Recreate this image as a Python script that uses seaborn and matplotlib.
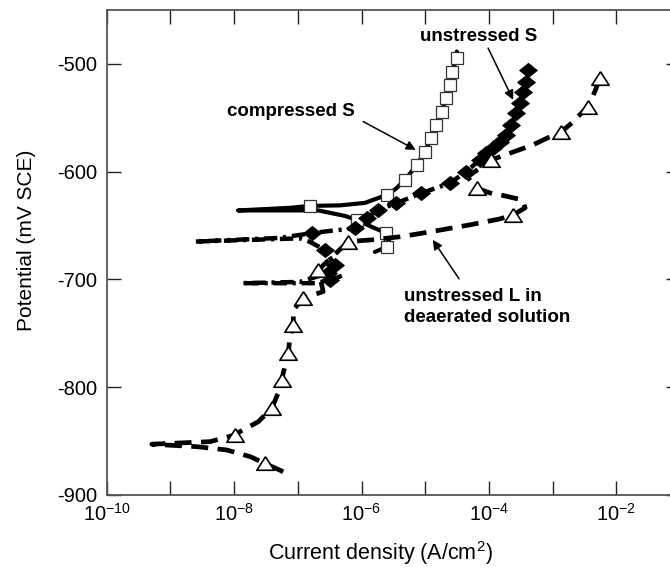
import matplotlib
matplotlib.use("Agg")
import matplotlib.pyplot as plt
from matplotlib.ticker import FixedLocator, FixedFormatter, NullLocator
import pandas as pd
import seaborn as sns

# ---- polarization data: current density (A/cm^2) and potential (mV SCE) ----
# compressed S specimen (solid line, open squares)
comp_i = [1.62e-6, 2.5e-6, 2.7e-6, 2.4e-6, 1.45e-6, 8.4e-7, 5.5e-7, 2.1e-7,
          1.15e-8, 7.5e-8, 1.55e-7, 4.6e-7, 1.13e-6, 2.5e-6, 3.45e-6, 4.8e-6,
          7.4e-6, 9.8e-6, 1.25e-5, 1.50e-5, 1.80e-5, 2.15e-5, 2.43e-5, 2.64e-5,
          3.1e-5, 3.13e-5]
comp_e = [-674.5, -669.8, -663.3, -656.8, -651.3, -644.8, -641.1, -636.0,
          -636.0, -633.6, -631.8, -631.3, -629.0, -621.6, -616.0, -607.7,
          -593.7, -581.7, -568.9, -556.6, -544.5, -531.5, -519.5, -507.4,
          -494.7, -488.6]
comp_marks = [1, 3, 5, 10, 13, 15, 16, 17, 18, 19, 20, 21, 22, 23, 24]

# unstressed S specimen (dash-dot line, filled diamonds)
unst_i = [4.9e-7, 3.2e-7, 1.92e-7, 1.31e-8, 1.08e-7, 3.0e-7, 3.8e-7, 3.2e-7,
          2.65e-7, 1.55e-7, 1.08e-7, 2.4e-9, 5.2e-8, 1.64e-7, 3.2e-7, 7.9e-7,
          1.20e-6, 1.82e-6, 3.5e-6, 8.7e-6, 2.43e-5, 4.4e-5, 7.2e-5, 9.1e-5,
          1.16e-4, 1.48e-4, 1.88e-4, 2.25e-4, 2.7e-4, 3.04e-4, 3.43e-4,
          3.87e-4, 4.1e-4]
unst_e = [-696.7, -700.5, -703.5, -703.5, -702.3, -694.2, -686.5, -680.0,
          -672.6, -665.2, -661.9, -664.9, -661.5, -657.1, -655.0, -652.5,
          -643.2, -635.5, -629.3, -620.0, -610.7, -599.9, -589.1, -582.9,
          -578.2, -572.1, -565.9, -556.6, -545.7, -536.5, -525.7, -516.4,
          -505.6]
unst_marks = [1, 5, 6, 8, 13] + list(range(15, 33))

# unstressed L specimen in deaerated solution (dashed line, open triangles)
dea_i = [5.9e-8, 3.0e-8, 1.8e-8, 7.6e-9, 2.6e-9, 5.1e-10, 4.2e-9, 1.03e-8,
         1.23e-8, 2.4e-8, 3.9e-8, 4.9e-8, 5.6e-8, 5.9e-8, 7.1e-8, 7.5e-8,
         8.5e-8, 8.5e-8, 1.21e-7, 2.5e-7, 2.1e-7, 6.2e-7, 1.45e-6, 4.2e-6,
         1.18e-5, 5.0e-5, 1.48e-4, 2.4e-4, 3.7e-4, 3.3e-4, 1.77e-4, 1.03e-4,
         6.4e-5, 4.6e-5, 1.09e-4, 4.9e-4, 8.4e-4, 1.37e-3, 1.85e-3, 3.6e-3,
         4.6e-3, 5.5e-3]
dea_e = [-878.4, -870.6, -864.5, -858.2, -855.2, -852.9, -850.5, -844.3,
         -841.3, -832.0, -819.5, -805.6, -793.3, -787.0, -768.5, -753.1,
         -742.2, -728.3, -717.4, -711.3, -691.2, -664.9, -663.3, -660.3,
         -655.9, -649.4, -643.9, -640.1, -633.6, -626.2, -622.5, -619.7,
         -615.4, -604.9, -589.1, -575.2, -568.6, -562.8, -556.6, -539.6,
         -525.7, -513.3]
dea_marks = [1, 7, 10, 12, 14, 16, 18, 20, 21, 27, 32, 34, 37, 39, 41]

# ---- axes ticks ----
x_ticks = [1e-10, 1e-9, 1e-8, 1e-7, 1e-6, 1e-5, 1e-4, 1e-3, 1e-2, 1e-1]
x_tick_labels = [r"$\mathregular{10^{-10}}$", "", r"$\mathregular{10^{-8}}$", "",
                 r"$\mathregular{10^{-6}}$", "", r"$\mathregular{10^{-4}}$", "",
                 r"$\mathregular{10^{-2}}$", ""]
y_ticks = [-900, -800, -700, -600, -500]
y_tick_labels = ["-900", "-800", "-700", "-600", "-500"]

sns.set_theme(style="ticks")
plt.rcParams["font.family"] = ["Liberation Sans", "DejaVu Sans"]
plt.rcParams["mathtext.fontset"] = "custom"
plt.rcParams["mathtext.rm"] = "Liberation Sans"
plt.rcParams["axes.unicode_minus"] = False

fig = plt.figure(figsize=(6.7, 5.69), dpi=100)
ax = fig.add_axes([0.1593, 0.1301, 0.8557, 0.8524])
ax.set_xscale("log")

comp = pd.DataFrame({"i": comp_i, "E": comp_e})
unst = pd.DataFrame({"i": unst_i, "E": unst_e})
dea = pd.DataFrame({"i": dea_i, "E": dea_e})

common = dict(x="i", y="E", sort=False, estimator=None, color="black", ax=ax)

sns.lineplot(data=comp, linewidth=3, linestyle="-", marker="s",
             markevery=comp_marks, markersize=9, markerfacecolor="white",
             markeredgecolor="#333333", markeredgewidth=0.9, zorder=3, **common)

diamond = [(0, 0.8), (1, 0), (0, -0.8), (-1, 0), (0, 0.8)]
sns.lineplot(data=unst, linewidth=3.2, linestyle=(0, (3.0, 1.3, 0.7, 1.3)),
             marker=diamond, markevery=unst_marks, markersize=13,
             markerfacecolor="black", markeredgecolor="black",
             markeredgewidth=0.5, zorder=4, **common)

triangle = [(0, 0.78), (-1, -0.78), (1, -0.78), (0, 0.78)]
sns.lineplot(data=dea, linewidth=3.4, linestyle=(0, (3.6, 2.0)),
             marker=triangle, markevery=dea_marks, markersize=12.5,
             markerfacecolor="white", markeredgecolor="black",
             markeredgewidth=1.2, zorder=5, **common)

ax.set_xlim(1e-10, 1e-1)
ax.set_ylim(-900, -450)

ax.xaxis.set_major_locator(FixedLocator(x_ticks))
ax.xaxis.set_major_formatter(FixedFormatter(x_tick_labels))
ax.xaxis.set_minor_locator(NullLocator())
ax.yaxis.set_major_locator(FixedLocator(y_ticks))
ax.yaxis.set_major_formatter(FixedFormatter(y_tick_labels))
ax.yaxis.set_minor_locator(NullLocator())
ax.tick_params(direction="in", length=10, width=1.0, color="#222222",
               top=True, right=True, labelsize=14.5, labelcolor="black")
ax.tick_params(axis="y", pad=7)
ax.tick_params(axis="x", pad=6)
for sp in ax.spines.values():
    sp.set_color("#555555")
    sp.set_linewidth(1.3)

ax.set_xlabel(r"Current density (A/cm$^{\mathregular{2}}$)", fontsize=15.5, color="black")
ax.set_ylabel("Potential (mV SCE)", fontsize=15, color="black")
ax.xaxis.set_label_coords(0.478, -0.092)
ax.yaxis.set_label_coords(-0.123, 0.526)

# ---- curve labels with arrows ----
label_kw = dict(fontsize=13.5, fontweight="bold", color="black")
arrow_kw = dict(arrowstyle="-|>", color="black", lw=1.1, mutation_scale=14,
                shrinkA=0, shrinkB=0)

ax.text(7.8e-8, -544.3, "compressed S", ha="center", va="center", **label_kw)
ax.annotate("", xy=(7.1e-6, -579.8), xytext=(1.06e-6, -553.5), arrowprops=arrow_kw)

ax.text(6.9e-5, -474.7, "unstressed S", ha="center", va="center", **label_kw)
ax.annotate("", xy=(2.4e-4, -533.4), xytext=(9.7e-5, -485.4), arrowprops=arrow_kw)

ax.text(4.6e-6, -725.5, "unstressed L in\ndeaerated solution", ha="left",
        va="center", linespacing=1.3, **label_kw)
ax.annotate("", xy=(1.31e-5, -663.3), xytext=(3.4e-5, -699.5), arrowprops=arrow_kw)

fig.savefig("out.png", dpi=100)
